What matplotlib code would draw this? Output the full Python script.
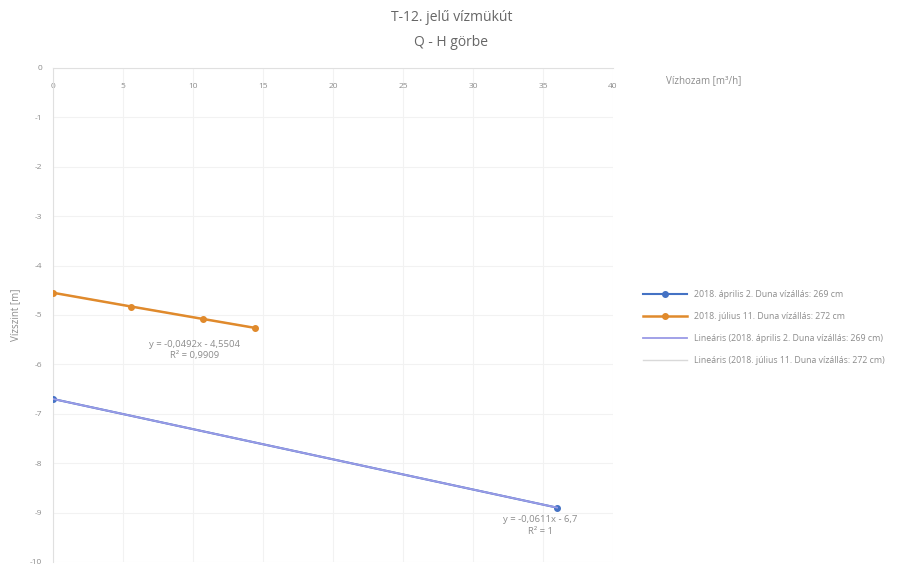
import matplotlib.pyplot as plt

plt.rcParams['font.family'] = ['Open Sans', 'DejaVu Sans']
plt.rcParams['axes.unicode_minus'] = False

# Measured discharge (m3/h) and water level (m)
q_april = [0.0, 36.0]
h_april = [-6.7, -8.9]
q_july = [0.0, 5.6, 10.7, 14.4]
h_july = [-4.55, -4.83, -5.08, -5.26]

# Linear trendline coefficients
slope_april, icpt_april = -0.0611, -6.7
slope_july, icpt_july = -0.0492, -4.5504

label_april = '2018. április 2. Duna vízállás: 269 cm'
label_july = '2018. július 11. Duna vízállás: 272 cm'

grey = '#8c8c8c'
blue = '#4472c4'
orange = '#e08a2c'

fig = plt.figure(figsize=(9.03, 5.68), dpi=100)
ax = fig.add_axes([0.0587, 0.0106, 0.6202, 0.8697])

ax.plot(q_april, h_april, color=blue, lw=1.5, marker='o', ms=4, label=label_april, zorder=3)
ax.plot(q_july, h_july, color=orange, lw=1.8, marker='o', ms=4, label=label_july, zorder=3)

# trendlines over the measured range
tx_a = [min(q_april), max(q_april)]
ax.plot(tx_a, [slope_april * x + icpt_april for x in tx_a], color='#9a9ae6', lw=1.3,
        label='Lineáris (' + label_april + ')', zorder=4)
tx_j = [min(q_july), max(q_july)]
ax.plot(tx_j, [slope_july * x + icpt_july for x in tx_j], color='#d9d9d9', lw=1.0,
        label='Lineáris (' + label_july + ')', zorder=2)

ax.set_xlim(0, 40)
ax.set_ylim(-10, 0)
ax.set_xticks(range(0, 41, 5))
ax.set_yticks(range(-10, 1))
ax.grid(True, color='#f2f2f2', lw=0.8)
ax.set_axisbelow(True)

for s in ['right', 'bottom']:
    ax.spines[s].set_visible(False)
for s in ['top', 'left']:
    ax.spines[s].set_color('#e0e0e0')

ax.xaxis.set_ticks_position('top')
ax.tick_params(axis='x', length=0, pad=-16, labelsize=6, colors=grey)
ax.tick_params(axis='y', length=0, pad=8, labelsize=6, colors=grey)

ax.set_ylabel('Vízszint [m]', fontsize=7, color=grey, labelpad=6)
fig.text(0.737, 0.853, 'Vízhozam [m³/h]', fontsize=7, color=grey)

fig.suptitle('T-12. jelű vízmükút\nQ - H görbe', y=0.982, fontsize=10, color='#666666',
             linespacing=1.9)

ax.text(10.1, -5.5, 'y = -0,0492x - 4,5504\nR² = 0,9909', fontsize=6.8, color=grey,
        ha='center', va='top', linespacing=1.4)
ax.text(34.8, -9.05, 'y = -0,0611x - 6,7\nR² = 1', fontsize=6.8, color=grey,
        ha='center', va='top', linespacing=1.4)

leg = ax.legend(loc='center left', bbox_to_anchor=(1.04, 0.475), frameon=False,
                fontsize=6.3, labelcolor=grey, handlelength=5.0, labelspacing=1.5)

fig.savefig('out.png', dpi=100)
